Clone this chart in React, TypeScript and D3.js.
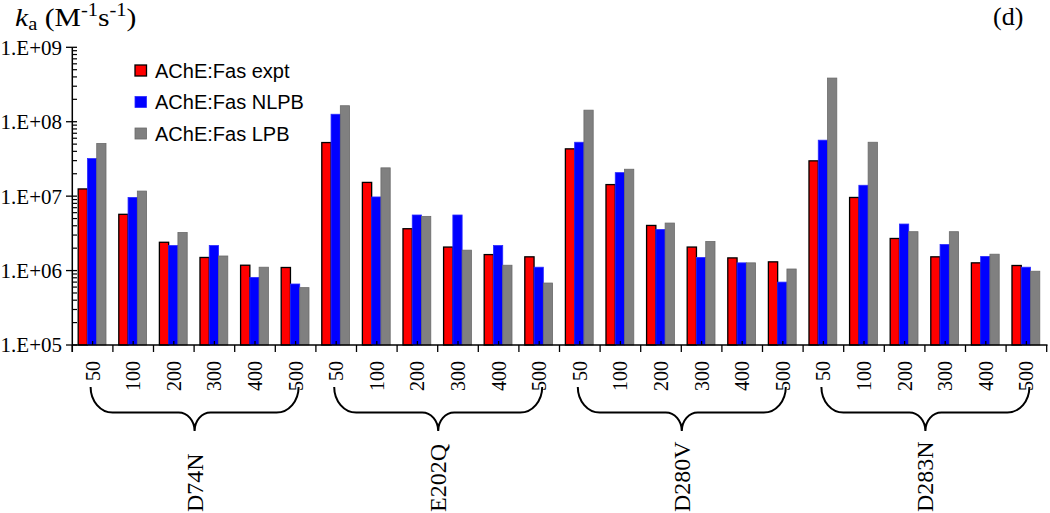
import React from "react";
import * as d3 from "d3";

const concentrations = ["50", "100", "200", "300", "400", "500"];
const mutants = ["D74N", "E202Q", "D280V", "D283N"];
const seriesNames = ["AChE:Fas expt", "AChE:Fas NLPB", "AChE:Fas LPB"];
const seriesColors = ["#ff0000", "#0000ff", "#808080"];
const seriesStrokes = ["#000000", "#2a2aff", "#6a6a6a"];

const expt = [
  1.25e7, 5.7e6, 2.4e6, 1.5e6, 1.18e6, 1.1e6,
  5.25e7, 1.53e7, 3.65e6, 2.07e6, 1.64e6, 1.53e6,
  4.32e7, 1.43e7, 4.04e6, 2.07e6, 1.48e6, 1.31e6,
  2.98e7, 9.6e6, 2.7e6, 1.53e6, 1.27e6, 1.17e6,
];
const nlpb = [
  3.2e7, 9.6e6, 2.17e6, 2.17e6, 8.1e5, 6.6e5,
  1.26e8, 9.75e6, 5.58e6, 5.58e6, 2.17e6, 1.11e6,
  5.3e7, 2.07e7, 3.57e6, 1.5e6, 1.27e6, 7.0e5,
  5.65e7, 1.4e7, 4.22e6, 2.24e6, 1.55e6, 1.11e6,
];
const lpb = [
  5.1e7, 1.17e7, 3.25e6, 1.57e6, 1.11e6, 5.9e5,
  1.64e8, 2.4e7, 5.35e6, 1.88e6, 1.18e6, 6.8e5,
  1.43e8, 2.3e7, 4.35e6, 2.46e6, 1.27e6, 1.05e6,
  3.86e8, 5.3e7, 3.33e6, 3.33e6, 1.66e6, 9.8e5,
];
const yTickValues = [1e5, 1e6, 1e7, 1e8, 1e9];
const yTickLabels = ["1.E+05", "1.E+06", "1.E+07", "1.E+08", "1.E+09"];

const W = 1050;
const H = 513;
const serif = "'Liberation Serif', 'Times New Roman', serif";
const sans = "'Liberation Sans', Arial, sans-serif";

export default function App() {
  const series = [expt, nlpb, lpb];
  const cats = d3.range(mutants.length * concentrations.length);
  const x = d3.scaleBand<number>().domain(cats).range([72.3, 1046.7]).padding(0);
  const bw = x.bandwidth();
  const xs = d3
    .scaleBand<number>()
    .domain([0, 1, 2])
    .range([bw * 0.145, bw * 0.83])
    .padding(0);
  const y = d3.scaleLog().domain([1e5, 1e9]).range([345, 47.3]);
  const y0 = y(1e5);

  const minorTicks: number[] = [];
  for (let e = 5; e < 9; e++) {
    for (let m = 2; m <= 9; m++) minorTicks.push(m * Math.pow(10, e));
  }

  const braceTop = 387;
  const braceMid = 412.5;
  const braceTip = 431;

  function bracePath(xa: number, xb: number) {
    const rx = 22;
    const ry = braceMid - braceTop;
    const rx2 = 16;
    const ry2 = braceTip - braceMid;
    const xc = (xa + xb) / 2;
    return [
      `M${xa},${braceTop}`,
      `A${rx},${ry} 0 0 0 ${xa + rx},${braceMid}`,
      `L${xc - rx2},${braceMid}`,
      `A${rx2},${ry2} 0 0 1 ${xc},${braceTip}`,
      `A${rx2},${ry2} 0 0 1 ${xc + rx2},${braceMid}`,
      `L${xb - rx},${braceMid}`,
      `A${rx},${ry} 0 0 0 ${xb},${braceTop}`,
    ].join(" ");
  }

  return (
    <svg
      width={W}
      height={H}
      style={{ position: "absolute", left: 0, top: 0, background: "#fff" }}
    >
      <rect x={0} y={0} width={W} height={H} fill="#fff" />
      {/* title */}
      <text
        transform="translate(15,26) scale(1.14,1)"
        fontFamily={serif}
        fontSize={26}
        fill="#000"
      >
        <tspan fontStyle="italic">k</tspan>
        <tspan fontSize={18} dy={4}>a</tspan>
        <tspan dy={-4}> (M</tspan>
        <tspan fontSize={18} dy={-10}>-1</tspan>
        <tspan dy={10}>s</tspan>
        <tspan fontSize={18} dy={-10}>-1</tspan>
        <tspan dy={10}>)</tspan>
      </text>
      <text x={993} y={25} fontFamily={serif} fontSize={26} fill="#000">
        (d)
      </text>

      {/* bars */}
      {series.map((vals, si) =>
        vals.map((v, i) => {
          const bx = (x(i) as number) + (xs(si) as number);
          const by = y(v);
          return (
            <rect
              key={`b${si}-${i}`}
              x={bx}
              y={by}
              width={xs.bandwidth()}
              height={y0 - by}
              fill={seriesColors[si]}
              stroke={seriesStrokes[si]}
              strokeWidth={si === 0 ? 1.3 : 0.8}
            />
          );
        })
      )}

      {/* y axis */}
      <line x1={72.3} x2={72.3} y1={y(1e9)} y2={352} stroke="#000" strokeWidth={1.5} />
      {minorTicks.map((t) => (
        <line
          key={`mt${t}`}
          x1={72.3}
          x2={77}
          y1={y(t)}
          y2={y(t)}
          stroke="#000"
          strokeWidth={1.2}
        />
      ))}
      {yTickValues.map((t, i) => (
        <g key={`yt${t}`}>
          <line x1={66} x2={77} y1={y(t)} y2={y(t)} stroke="#000" strokeWidth={1.3} />
          <text
            x={62}
            y={y(t)}
            dy="0.35em"
            textAnchor="end"
            fontFamily={serif}
            fontSize={21}
            fill="#000"
          >
            {yTickLabels[i]}
          </text>
        </g>
      ))}

      {/* x axis */}
      <line x1={72.3} x2={1047.5} y1={y0} y2={y0} stroke="#000" strokeWidth={1.5} />
      {d3.range(cats.length + 1).map((k) => {
        const bx = 72.3 + k * bw;
        return (
          <line key={`xb${k}`} x1={bx} x2={bx} y1={y0} y2={352} stroke="#000" strokeWidth={1.3} />
        );
      })}
      {cats.map((i) => {
        const cx = (x(i) as number) + bw / 2;
        return (
          <g key={`xt${i}`}>
            <line x1={cx} x2={cx} y1={y0 - 4} y2={y0} stroke="#000" strokeWidth={1.3} />
            <text
              transform={`translate(${cx},361) rotate(-90)`}
              dy="0.35em"
              textAnchor="end"
              fontFamily={serif}
              fontSize={20}
              fill="#000"
            >
              {concentrations[i % concentrations.length]}
            </text>
          </g>
        );
      })}

      {/* braces & group labels */}
      {mutants.map((m, gi) => {
        const first = gi * concentrations.length;
        const last = first + concentrations.length - 1;
        const xa = (x(first) as number) + bw / 2 - 2;
        const xb = (x(last) as number) + bw / 2 + 3;
        const xc = (x(first) as number) + (bw * concentrations.length) / 2;
        return (
          <g key={`g${m}`}>
            <path d={bracePath(xa, xb)} fill="none" stroke="#000" strokeWidth={2} />
            <text
              transform={`translate(${xc},512) rotate(-90)`}
              dy="0.35em"
              textAnchor="start"
              fontFamily={serif}
              fontSize={24}
              fill="#000"
            >
              {m}
            </text>
          </g>
        );
      })}

      {/* legend */}
      {seriesNames.map((n, i) => {
        const ly = 70.5 + i * 31.5;
        return (
          <g key={`lg${i}`}>
            <rect
              x={135}
              y={ly - 5.5}
              width={11.5}
              height={11}
              fill={seriesColors[i]}
              stroke={seriesStrokes[i]}
              strokeWidth={i === 0 ? 1.3 : 0.8}
            />
            <text
              x={155}
              y={ly}
              dy="0.36em"
              fontFamily={sans}
              fontSize={20}
              fill="#000"
            >
              {n}
            </text>
          </g>
        );
      })}
    </svg>
  );
}
